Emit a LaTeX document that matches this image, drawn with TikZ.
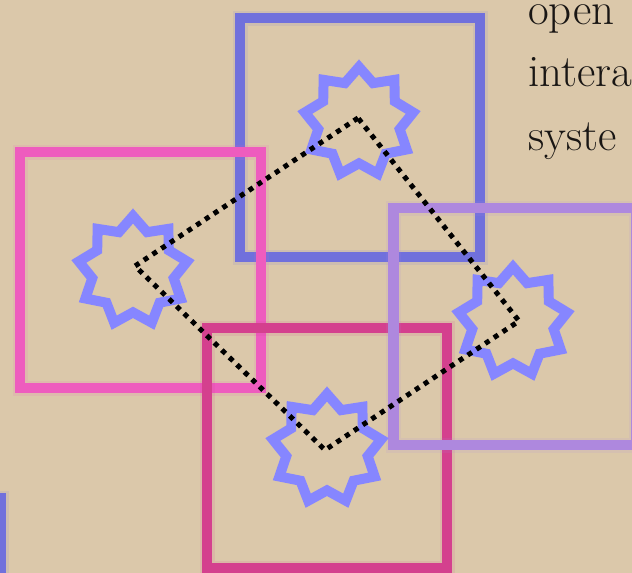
\documentclass[tikz,border=0pt]{standalone}
\usetikzlibrary{shapes.geometric}
\definecolor{bg}{RGB}{219,200,170}
\definecolor{sqblue}{RGB}{112,112,220}
\definecolor{sqpink}{RGB}{238,92,190}
\definecolor{sqmag}{RGB}{212,64,142}
\definecolor{sqpurple}{RGB}{174,136,222}
\definecolor{starblue}{RGB}{134,134,255}
\definecolor{ink}{RGB}{25,22,20}
\begin{document}
\begin{tikzpicture}[x=1pt,y=-1pt,
  sq/.style={draw=#1,line width=10.5pt},
  glow/.style={draw=#1,line width=15pt,opacity=0.12},
  starnode/.style={star,star points=9,star point ratio=1.33,minimum size=110pt,inner sep=0pt,draw=starblue,line width=10pt},
  dots/.style={draw=black,line width=5pt,dash pattern=on 5pt off 5.5pt},
  txt/.style={anchor=base west,inner sep=0pt,text=ink,font=\fontsize{45}{45}\selectfont}]
\fill[bg] (0,0) rectangle (632,573);
\useasboundingbox (0,0) rectangle (632,573);
\clip (0,0) rectangle (632,573);
% squares
\draw[glow=sqblue] (-240,498) rectangle (1,740);
\draw[sq=sqblue] (-240,498) rectangle (1,740);
\draw[glow=sqblue] (240,18) rectangle (480,257);
\draw[sq=sqblue] (240,18) rectangle (480,257);
\draw[glow=sqpink] (20,152) rectangle (261,388);
\draw[sq=sqpink] (20,152) rectangle (261,388);
\draw[glow=sqmag] (207,328) rectangle (447,568);
\draw[sq=sqmag] (207,328) rectangle (447,568);
\draw[glow=sqpurple] (393.5,208) rectangle (636,445);
\draw[sq=sqpurple] (393.5,208) rectangle (636,445);
% stars
\node[starnode] (s1) at (359,122) {};
\node[starnode] (s2) at (133,271) {};
\node[starnode] (s3) at (513,322) {};
\node[starnode] (s4) at (327,449) {};
% dotted diamond
\coordinate (c1) at (358,118);
\coordinate (c2) at (135,266);
\coordinate (c4) at (325,450);
\coordinate (c3) at (519,321);
\draw[dots] (c1) -- (c2) -- (c4) -- (c3) -- cycle;
% text
\node[txt] (t1) at (528,24) {open};
\node[txt] (t2) at (528,86) {intera};
\node[txt] (t3) at (528,150) {syste};
\end{tikzpicture}
\end{document}
